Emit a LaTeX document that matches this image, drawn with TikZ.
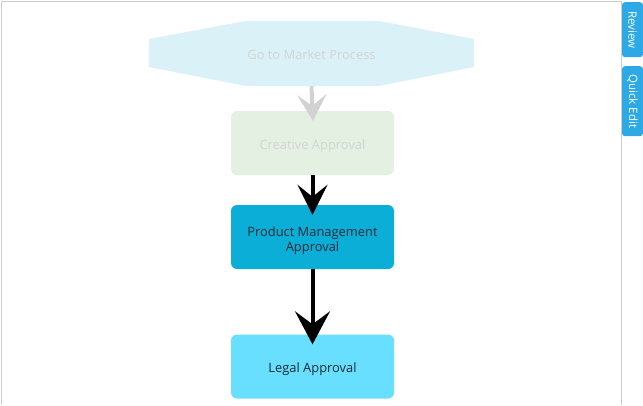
\documentclass[tikz,border=0pt]{standalone}
\usepackage{fontspec}
\setmainfont{Open Sans}
\usepackage{xcolor}
\usetikzlibrary{positioning, arrows.meta, calc}

\definecolor{gtmfill}{HTML}{DAF1F7}
\definecolor{fadetext}{HTML}{D4D4D4}
\definecolor{creafill}{HTML}{E3F0E2}
\definecolor{pmfill}{HTML}{0BAED6}
\definecolor{legalfill}{HTML}{68DFFF}
\definecolor{darktext}{HTML}{1C2B36}
\definecolor{tabblue}{HTML}{2DAAE6}
\definecolor{framegray}{HTML}{CCCCCC}
\definecolor{fadearrow}{HTML}{D2D2D2}

% lower a label a little inside its box
\newcommand{\lowtext}[2][3pt]{\raisebox{-#1}[\height][\depth]{#2}}

\begin{document}
\begin{tikzpicture}[
    x=1pt, y=-1pt,
    every node/.style={font=\fontsize{12.9}{15.2}\selectfont},
    stepbox/.style={rounded corners=6pt, minimum width=163pt, minimum height=64pt, align=center, inner sep=0pt},
    tab/.style={fill=tabblue, rounded corners=3pt, minimum height=21pt, inner sep=0pt, text=white, rotate=-90, font=\fontsize{11.5}{13}\selectfont},
    arr/.style={line width=4pt, shorten >=-10pt},
]
\useasboundingbox (0,0) rectangle (643,405);

% === Frame ===
\draw[framegray, line width=1pt] (1,405) -- (1,1) -- (621,1) -- (621,405);

% === Side tabs ===
\node[tab, minimum width=55pt, anchor=west] (review) at (632.5,2) {Review};
\node[tab, minimum width=70pt, anchor=west] (quick) at (632.5,66) {Quick Edit};

% === Steps (top to bottom) ===
\node[minimum width=325pt, minimum height=65pt, inner sep=0pt] (gtm) at (311.5,53.5) {};
\fill[gtmfill] ([yshift=14.5pt]gtm.west) -- ([xshift=98pt]gtm.north west) -- ([xshift=-96pt]gtm.north east)
    -- ([yshift=14.5pt]gtm.east) -- ([yshift=-13.5pt]gtm.east) -- ([xshift=-96pt]gtm.south east)
    -- ([xshift=98pt]gtm.south west) -- ([yshift=-13.5pt]gtm.west) -- cycle;
\node[text=fadetext] at ([yshift=-1pt]gtm.center) {Go to Market Process};

\node[stepbox, fill=creafill, text=fadetext] (creative) at (312.5,143) {\lowtext{Creative Approval}};
\node[stepbox, fill=pmfill, text=darktext] (pm) at (312.5,237)
    {\lowtext[4pt]{\begin{tabular}{@{}c@{}}Product Management\\Approval\end{tabular}}};
\node[stepbox, fill=legalfill, text=darktext] (legal) at (312.5,366.5) {\lowtext{Legal Approval}};

% === Arrows ===
\draw[arr, fadearrow, -{Stealth[length=26pt, width=29pt, inset=11pt]}] (gtm.south) -- (creative.north);
\draw[arr, black, -{Stealth[length=30pt, width=30pt, inset=12pt]}] (creative.south) -- (pm.north);
\draw[arr, black, -{Stealth[length=33pt, width=35pt, inset=13pt]}] (pm.south) -- (legal.north);

\end{tikzpicture}
\end{document}
